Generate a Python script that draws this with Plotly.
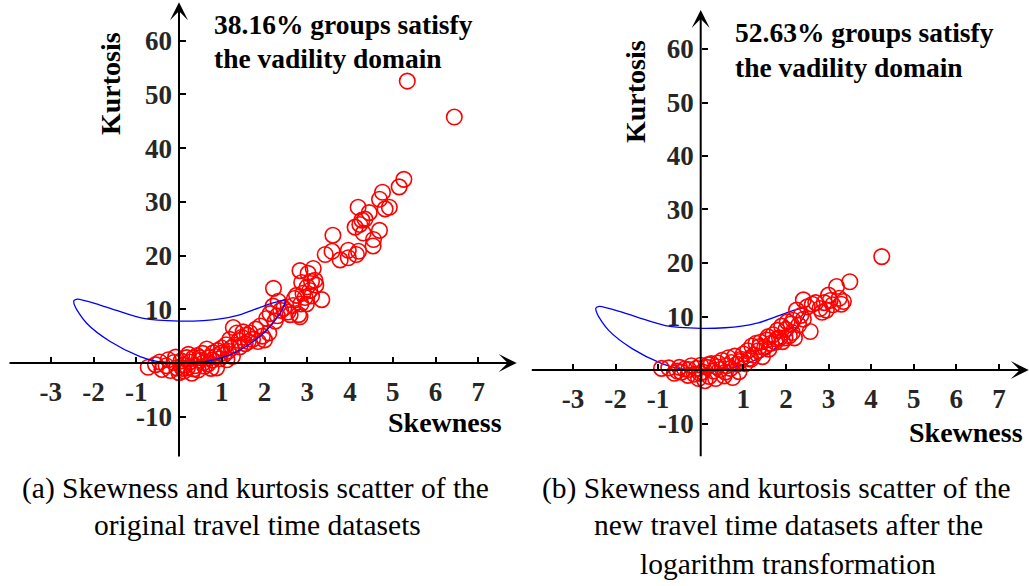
import plotly.graph_objects as go

W, H = 1029, 586

# ---------------- data ----------------
skew_a = [-0.72, -0.55, -0.4, -0.3, -0.2, -0.12, -0.05, 0.0, 0.05, 0.1, 0.12, 0.18, 0.2, 0.25, 0.3, 0.33, 0.38,
          0.42, 0.45, 0.5, 0.55, 0.6, 0.65, 0.7, 0.75, 0.8, 0.88, 0.9, 0.95, 1.0, 1.05, 1.1, 1.15, 1.19, 1.25,
          1.27, 1.3, 1.35, 1.4, 1.47, 1.5, 1.55, 1.6, 1.66, 1.72, 1.8, 1.85, 1.9, 1.95, 2.0, 2.05, 2.1, 2.13,
          2.2, 2.25, 2.3, 2.32, 2.21, 2.38, 2.45,
          -0.45, -0.25, -0.08, 0.08, 0.22, 0.35, 0.48, 0.58, 0.68, 0.78, 0.85, 0.98, 1.12, 1.22, 1.42, 1.62,
          2.55, 2.6, 2.67, 2.7, 2.75, 2.8, 2.83, 2.85, 2.87, 2.9, 2.95, 3.0, 3.02, 3.06, 3.1, 3.14, 3.18, 3.2,
          2.83, 3.34, 2.98, 3.1,
          3.42, 3.6, 3.58, 3.77, 3.96, 3.96, 4.12, 4.15, 4.2, 4.19, 4.23, 4.28, 4.31, 4.35, 4.45, 4.55, 4.54,
          4.69, 4.69, 4.76, 4.82, 4.92, 5.15, 5.26, 5.34, 6.44]
kurt_a = [-0.8, -0.3, -1.2, -0.5, -1.4, 0.1, -0.9, -1.8, 0.4, -0.4, -1.5, 1.0, -0.9, 0.2, -1.9, 0.9, -0.5,
          1.4, -1.3, 0.5, 1.8, -0.6, 2.6, 1.0, -1.0, 1.9, -0.9, 2.3, 0.8, 2.8, 1.5, 3.4, 2.2, 4.4, 1.2,
          6.6, 3.3, 5.6, 4.2, 4.8, 5.8, 3.6, 5.2, 5.6, 4.4, 6.3, 4.0, 6.9, 5.0, 4.3, 8.3, 5.6, 9.2,
          10.6, 7.8, 8.8, 11.5, 13.9, 9.8, 10.2,
          0.2, 0.6, 1.1, -1.0, 1.6, -1.1, 1.0, 0.1, -0.2, 0.5, 1.2, 1.8, 0.6, 2.8, 3.0, 4.0,
          9.5, 9.0, 10.7, 12.0, 12.6, 9.0, 8.6, 11.0, 15.0, 13.0, 12.2, 14.2, 16.7, 13.5, 12.5, 17.6, 15.4, 14.5,
          17.2, 11.8, 11.0, 15.2,
          20.2, 23.8, 20.8, 19.2, 21.0, 19.6, 25.3, 20.2, 20.8, 29.0, 25.8, 26.6, 24.2, 26.8, 28.0, 23.0, 21.8,
          24.7, 30.5, 31.8, 28.7, 29.0, 32.8, 34.2, 52.5, 45.8]

skew_b = [-0.92, -0.75, -0.62, -0.5, -0.45, -0.38, -0.3, -0.22, -0.15, -0.1, -0.05, 0.0, 0.05, 0.1, 0.15, 0.2,
          0.25, 0.3, 0.35, 0.4, 0.45, 0.5, 0.55, 0.6, 0.65, 0.7, 0.75, 0.8, 0.85, 0.9, 0.95, 1.0, 1.05, 1.1,
          1.15, 1.2, 1.25, 1.3, 1.35, 1.4, 1.45, 1.5, 1.55, 1.6, 1.65, 1.7, 1.75, 1.8, 1.85, 1.9, 1.92, 2.0,
          2.03, 2.08, 2.12, 2.17, 2.2, 2.25, 2.3, 2.35, 2.41, 2.41, 2.5, 2.57, 2.62, 2.7, 2.8, 2.85, 2.9, 2.95,
          3.0, 3.04, 3.1, 3.19, 3.25, 3.3, 3.35, 3.5, 4.25,
          -0.55, -0.28, -0.02, 0.18, 0.38, 0.58, 0.72, 0.92, 1.18, 1.38, 1.58, 1.78, 1.98, 2.15]
kurt_b = [0.3, 0.4, -0.6, 0.5, -0.4, 0.2, -1.0, 0.8, -0.8, 0.3, -1.6, 0.9, -0.4, -2.0, 0.5, -1.2,
          1.2, -0.2, -1.6, 1.3, 0.1, 1.8, -1.1, 0.8, 2.3, 0.3, -1.4, 2.6, 1.1, -0.3, 2.0, 3.0, 1.2, 3.6,
          2.2, 4.5, 2.8, 5.0, 3.6, 5.2, 2.5, 4.2, 5.6, 3.9, 5.0, 6.6, 5.2, 7.4, 6.0, 8.2, 5.3, 7.6,
          9.0, 6.4, 8.6, 9.3, 6.0, 11.2, 8.4, 10.2, 13.1, 9.5, 11.8, 7.2, 12.3, 12.6, 11.5, 10.8, 12.6, 11.2,
          14.0, 13.0, 12.2, 15.6, 13.4, 12.3, 12.8, 16.5, 21.2,
          -0.2, 0.1, -0.6, 1.0, 0.6, -0.4, 1.4, 1.6, 2.0, 4.4, 6.2, 5.8, 6.0, 7.0]

# validity domain boundary (closed loop)
dom_skew = [0.0, 0.57, 0.96, 1.35, 1.74, 2.13, 2.40, 2.48, 2.44, 2.29, 2.05, 1.74, 1.35, 0.96, 0.57, 0.18, 0.0,
            -0.2, -0.52, -0.91, -1.61, -2.16, -2.43, -2.46, -2.38, -1.85, -1.46, -0.83, 0.0]
dom_kurt = [7.8, 7.9, 8.2, 8.8, 9.9, 11.0, 11.6, 11.8, 10.3, 8.4, 6.1, 4.0, 2.1, 0.9, 0.2, 0.0, 0.0,
            0.05, 0.3, 1.2, 4.0, 7.4, 10.5, 11.6, 11.9, 10.8, 9.8, 8.3, 7.8]

x_tickvals = [-3, -2, -1, 1, 2, 3, 4, 5, 6, 7]
x_ticktext = ["-3", "-2", "-1", "1", "2", "3", "4", "5", "6", "7"]
y_tickvals = [-10, 10, 20, 30, 40, 50, 60]
y_ticktext = ["-10", "10", "20", "30", "40", "50", "60"]

note_a = ["38.16% groups satisfy", "the vadility domain"]
note_b = ["52.63% groups satisfy", "the vadility domain"]
cap_a = ["(a) Skewness and kurtosis scatter of the", "original travel time datasets"]
cap_b = ["(b) Skewness and kurtosis scatter of the", "new travel time datasets after the",
         "logarithm transformation"]

# ---------------- layout geometry (pixels) ----------------
panels = {
    "a": dict(px0=179.0, sx=42.75, xr=[-4.0, 7.9], py0=363.0, sy=5.37, yr=[-17.7, 67.2]),
    "b": dict(px0=700.7, sx=42.6, xr=[-4.0, 7.7], py0=370.0, sy=5.35, yr=[-16.4, 67.3]),
}

FONT = "Liberation Serif"
TICKCOL = "#262626"

fig = go.Figure()


def px_x(p):
    return p / W


def px_y(p):
    return 1 - p / H


layout = dict(width=W, height=H, margin=dict(l=0, r=0, t=0, b=0),
              paper_bgcolor="white", plot_bgcolor="white", showlegend=False)
annotations = []

for i, (key, g) in enumerate(panels.items()):
    sfx = "" if i == 0 else "2"
    xd = [px_x(g["px0"] + g["xr"][0] * g["sx"]), px_x(g["px0"] + g["xr"][1] * g["sx"])]
    yd = [px_y(g["py0"] - g["yr"][0] * g["sy"]), px_y(g["py0"] - g["yr"][1] * g["sy"])]
    xd = [max(0, xd[0]), min(1, xd[1])]
    common = dict(showgrid=False, zeroline=False, showline=False, ticks="inside", ticklen=6,
                  tickwidth=2, tickcolor="black",
                  tickfont=dict(family=FONT, size=27, color=TICKCOL))
    layout["xaxis" + sfx] = dict(domain=xd, range=g["xr"], anchor="free", position=px_y(g["py0"]),
                                 tickvals=x_tickvals, ticktext=[f"<b>{t}</b>" for t in x_ticktext],
                                 ticklabelstandoff=10, **common)
    layout["yaxis" + sfx] = dict(domain=yd, range=g["yr"], anchor="free", position=px_x(g["px0"]),
                                 tickvals=y_tickvals, ticktext=[f"<b>{t}</b>" for t in y_ticktext],
                                 ticklabelstandoff=7, **common)
    xr_, yr_ = "x" + sfx, "y" + sfx
    # axis lines with arrowheads
    annotations.append(dict(x=g["xr"][1], y=0, ax=g["xr"][0], ay=0, xref=xr_, yref=yr_, axref=xr_,
                            ayref=yr_, showarrow=True, arrowhead=3, arrowsize=1.5, arrowwidth=2,
                            arrowcolor="black", text=""))
    annotations.append(dict(x=0, y=g["yr"][1], ax=0, ay=g["yr"][0], xref=xr_, yref=yr_, axref=xr_,
                            ayref=yr_, showarrow=True, arrowhead=3, arrowsize=1.5, arrowwidth=2,
                            arrowcolor="black", text=""))

    sk, ku = (skew_a, kurt_a) if key == "a" else (skew_b, kurt_b)
    curve = go.Scatter(x=dom_skew, y=dom_kurt, mode="lines", line=dict(color="#0000ff", width=1.3,
                                                                         shape="spline", smoothing=0.8),
                       xaxis=xr_, yaxis=yr_, hoverinfo="skip")
    pts = go.Scatter(x=sk, y=ku, mode="markers", xaxis=xr_, yaxis=yr_,
                     marker=dict(symbol="circle-open", size=15.5, color="#ff0000", line=dict(width=1.6)))
    if key == "a":
        fig.add_trace(pts)
        fig.add_trace(curve)
    else:
        fig.add_trace(curve)
        fig.add_trace(pts)


def txt(text, x, y, size, bold=False, xanchor="center", angle=0):
    annotations.append(dict(text=f"<b>{text}</b>" if bold else text, x=px_x(x), y=px_y(y),
                            xref="paper", yref="paper", showarrow=False, xanchor=xanchor,
                            yanchor="middle", textangle=angle,
                            font=dict(family=FONT, size=size, color="black")))


# axis titles
txt("Kurtosis", 110, 84, 28, bold=True, angle=-90)
txt("Kurtosis", 635, 92, 28, bold=True, angle=-90)
txt("Skewness", 445, 422, 28, bold=True)
txt("Skewness", 966, 432, 28, bold=True)
# notes
txt(note_a[0], 212, 25, 27.5, bold=True, xanchor="left")
txt(note_a[1], 212, 58, 27.5, bold=True, xanchor="left")
txt(note_b[0], 733, 33, 27.5, bold=True, xanchor="left")
txt(note_b[1], 733, 67, 27.5, bold=True, xanchor="left")
# captions
txt(cap_a[0], 255, 488, 29.5)
txt(cap_a[1], 257, 525, 29.5)
txt(cap_b[0], 776, 488, 29.5)
txt(cap_b[1], 788, 525, 29.5)
txt(cap_b[2], 788, 564, 29.5)

layout["annotations"] = annotations
fig.update_layout(**layout)
fig.write_html("out.html")
